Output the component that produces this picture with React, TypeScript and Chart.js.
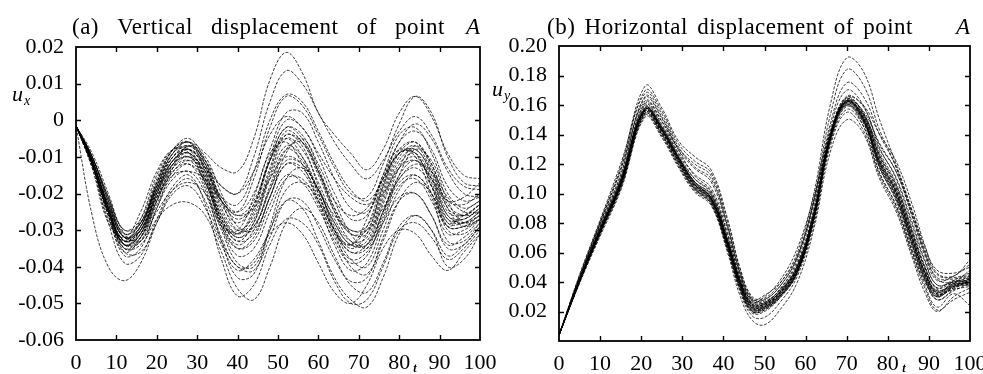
import React, { useEffect, useRef } from "react";
import { Chart, registerables } from "chart.js";

Chart.register(...registerables);

// ---------- Panel (a): vertical displacement u_x ----------
const T_A = [0, 4, 8, 12, 16, 20, 24, 28, 32, 36, 40, 44, 48, 52, 56, 60, 64, 68, 72, 76, 80, 84, 88, 92, 96, 100];

const UX_C1 = [-0.0015, -0.011, -0.024, -0.033, -0.030, -0.019, -0.010, -0.007, -0.013, -0.025, -0.031, -0.027, -0.015, -0.005, -0.008, -0.017, -0.027, -0.033, -0.032, -0.021, -0.011, -0.008, -0.015, -0.026, -0.027, -0.024];
const UX_C2 = [-0.0015, -0.012, -0.026, -0.035, -0.032, -0.021, -0.012, -0.009, -0.015, -0.028, -0.034, -0.030, -0.018, -0.008, -0.011, -0.020, -0.030, -0.036, -0.034, -0.023, -0.013, -0.010, -0.017, -0.028, -0.028, -0.025];
const UX_C3 = [-0.0015, -0.010, -0.022, -0.031, -0.028, -0.017, -0.008, -0.005, -0.011, -0.022, -0.027, -0.023, -0.011, -0.002, -0.005, -0.014, -0.024, -0.030, -0.029, -0.018, -0.008, -0.006, -0.013, -0.024, -0.026, -0.023];
const UX_C4 = [-0.0015, -0.009, -0.020, -0.031, -0.033, -0.024, -0.013, -0.007, -0.010, -0.020, -0.029, -0.030, -0.021, -0.009, -0.005, -0.012, -0.022, -0.031, -0.035, -0.027, -0.015, -0.008, -0.011, -0.022, -0.028, -0.026];
const UX_C5 = [-0.0015, -0.013, -0.028, -0.032, -0.025, -0.014, -0.008, -0.009, -0.018, -0.029, -0.030, -0.021, -0.009, -0.006, -0.012, -0.022, -0.031, -0.034, -0.027, -0.015, -0.008, -0.010, -0.020, -0.029, -0.025, -0.022];
const UX_C6 = [-0.0015, -0.011, -0.024, -0.034, -0.031, -0.020, -0.013, -0.011, -0.017, -0.028, -0.035, -0.033, -0.023, -0.015, -0.017, -0.024, -0.033, -0.039, -0.037, -0.026, -0.017, -0.015, -0.020, -0.029, -0.029, -0.026];
const UX_C7 = [-0.0015, -0.011, -0.023, -0.032, -0.029, -0.018, -0.010, -0.008, -0.013, -0.023, -0.028, -0.023, -0.010, 0.000, -0.002, -0.010, -0.020, -0.027, -0.026, -0.015, -0.004, -0.002, -0.009, -0.020, -0.024, -0.022];
const UX_C8 = [-0.0015, -0.012, -0.025, -0.033, -0.029, -0.017, -0.008, -0.006, -0.014, -0.027, -0.033, -0.028, -0.014, -0.004, -0.007, -0.018, -0.029, -0.035, -0.031, -0.018, -0.009, -0.009, -0.018, -0.029, -0.029, -0.027];
const UX_T1 = [-0.0015, -0.010, -0.021, -0.030, -0.027, -0.016, -0.008, -0.006, -0.009, -0.013, -0.014, -0.005, 0.011, 0.0185, 0.013, 0.002, -0.004, -0.009, -0.0135, -0.008, 0.002, 0.0065, 0.001, -0.009, -0.015, -0.016];
const UX_T2 = [-0.0015, -0.011, -0.023, -0.032, -0.028, -0.017, -0.009, -0.007, -0.011, -0.018, -0.020, -0.010, 0.005, 0.0135, 0.010, 0.002, -0.006, -0.012, -0.016, -0.011, -0.003, 0.001, -0.004, -0.013, -0.018, -0.019];
const UX_T3 = [-0.0015, -0.011, -0.024, -0.033, -0.029, -0.018, -0.009, -0.006, -0.012, -0.022, -0.025, -0.016, -0.002, 0.0065, 0.004, -0.004, -0.013, -0.020, -0.021, -0.012, -0.001, 0.0065, 0.002, -0.010, -0.017, -0.018];
const UX_T4 = [-0.0015, -0.010, -0.022, -0.031, -0.028, -0.018, -0.010, -0.008, -0.013, -0.021, -0.023, -0.014, 0.000, 0.007, 0.005, -0.003, -0.012, -0.019, -0.022, -0.016, -0.006, -0.001, -0.005, -0.014, -0.020, -0.021];
const UX_B1 = [-0.0015, -0.026, -0.040, -0.0438, -0.039, -0.028, -0.019, -0.016, -0.022, -0.033, -0.040, -0.041, -0.032, -0.022, -0.022, -0.029, -0.038, -0.044, -0.043, -0.032, -0.022, -0.020, -0.026, -0.035, -0.034, -0.029];
const UX_B2 = [-0.0015, -0.012, -0.025, -0.035, -0.034, -0.027, -0.023, -0.0225, -0.026, -0.036, -0.046, -0.049, -0.040, -0.028, -0.024, -0.028, -0.037, -0.045, -0.047, -0.039, -0.029, -0.026, -0.030, -0.037, -0.034, -0.029];
const UX_B3 = [-0.0015, -0.013, -0.028, -0.039, -0.037, -0.027, -0.018, -0.015, -0.023, -0.038, -0.048, -0.045, -0.034, -0.027, -0.028, -0.034, -0.044, -0.050, -0.049, -0.040, -0.030, -0.028, -0.032, -0.038, -0.035, -0.030];
const UX_B4 = [-0.0015, -0.012, -0.026, -0.037, -0.035, -0.024, -0.016, -0.014, -0.020, -0.032, -0.040, -0.039, -0.030, -0.022, -0.024, -0.033, -0.043, -0.049, -0.051, -0.043, -0.031, -0.026, -0.030, -0.040, -0.038, -0.031];
const UX_B5 = [-0.0015, -0.012, -0.025, -0.036, -0.036, -0.028, -0.020, -0.018, -0.024, -0.034, -0.041, -0.038, -0.031, -0.028, -0.031, -0.039, -0.047, -0.050, -0.045, -0.035, -0.030, -0.031, -0.037, -0.041, -0.036, -0.031];
const UX_M1 = [-0.0015, -0.011, -0.024, -0.034, -0.033, -0.025, -0.019, -0.017, -0.020, -0.030, -0.039, -0.040, -0.030, -0.019, -0.017, -0.022, -0.031, -0.040, -0.042, -0.033, -0.022, -0.017, -0.020, -0.030, -0.031, -0.027];
const UX_M2 = [-0.0015, -0.012, -0.026, -0.036, -0.032, -0.021, -0.014, -0.012, -0.019, -0.033, -0.043, -0.042, -0.029, -0.016, -0.013, -0.019, -0.030, -0.038, -0.040, -0.030, -0.019, -0.015, -0.021, -0.033, -0.033, -0.028];
const UX_M3 = [-0.0015, -0.011, -0.023, -0.032, -0.030, -0.021, -0.015, -0.014, -0.016, -0.022, -0.026, -0.022, -0.011, -0.004, -0.006, -0.014, -0.022, -0.026, -0.024, -0.016, -0.009, -0.008, -0.014, -0.022, -0.023, -0.020];
const UX_M4 = [-0.0015, -0.010, -0.021, -0.030, -0.028, -0.019, -0.012, -0.010, -0.013, -0.018, -0.020, -0.014, -0.004, 0.001, -0.002, -0.009, -0.016, -0.021, -0.023, -0.020, -0.013, -0.011, -0.016, -0.022, -0.021, -0.017];
const UX_M5 = [-0.0015, -0.012, -0.025, -0.034, -0.030, -0.019, -0.011, -0.009, -0.016, -0.027, -0.032, -0.029, -0.019, -0.011, -0.012, -0.019, -0.028, -0.034, -0.034, -0.025, -0.016, -0.013, -0.018, -0.027, -0.027, -0.024];
const UX_M6 = [-0.0015, -0.011, -0.024, -0.033, -0.031, -0.022, -0.014, -0.011, -0.014, -0.022, -0.026, -0.024, -0.016, -0.010, -0.012, -0.019, -0.026, -0.030, -0.030, -0.024, -0.016, -0.012, -0.014, -0.021, -0.025, -0.025];
const UX_M7 = [-0.0015, -0.012, -0.025, -0.034, -0.031, -0.020, -0.012, -0.010, -0.017, -0.029, -0.035, -0.032, -0.021, -0.012, -0.014, -0.022, -0.032, -0.038, -0.036, -0.028, -0.021, -0.020, -0.026, -0.034, -0.032, -0.028];
const UX_D1 = [-0.0015, -0.011, -0.023, -0.032, -0.029, -0.018, -0.009, -0.006, -0.012, -0.024, -0.030, -0.026, -0.013, -0.003, -0.006, -0.015, -0.025, -0.031, -0.031, -0.020, -0.010, -0.007, -0.014, -0.025, -0.026, -0.023];
const UX_D2 = [-0.0015, -0.012, -0.025, -0.034, -0.031, -0.020, -0.011, -0.008, -0.014, -0.026, -0.032, -0.028, -0.016, -0.007, -0.010, -0.019, -0.028, -0.034, -0.033, -0.022, -0.012, -0.009, -0.016, -0.027, -0.028, -0.025];
const UX_D3 = [-0.0015, -0.010, -0.021, -0.032, -0.032, -0.022, -0.012, -0.007, -0.011, -0.022, -0.030, -0.029, -0.019, -0.008, -0.006, -0.014, -0.025, -0.033, -0.034, -0.025, -0.013, -0.007, -0.012, -0.024, -0.029, -0.027];
const UX_D4 = [-0.0015, -0.012, -0.027, -0.033, -0.027, -0.015, -0.008, -0.008, -0.016, -0.028, -0.031, -0.024, -0.011, -0.005, -0.010, -0.020, -0.030, -0.034, -0.029, -0.017, -0.009, -0.009, -0.018, -0.028, -0.026, -0.023];
const UX_D5 = [-0.0015, -0.011, -0.024, -0.033, -0.030, -0.019, -0.011, -0.009, -0.015, -0.026, -0.031, -0.025, -0.011, -0.002, -0.004, -0.013, -0.024, -0.031, -0.030, -0.019, -0.009, -0.006, -0.012, -0.023, -0.026, -0.025];
const UX_D6 = [-0.0015, -0.011, -0.024, -0.034, -0.032, -0.022, -0.013, -0.010, -0.016, -0.027, -0.033, -0.031, -0.021, -0.012, -0.013, -0.021, -0.030, -0.036, -0.035, -0.025, -0.015, -0.011, -0.016, -0.026, -0.028, -0.026];
const UX_D7 = [-0.0015, -0.012, -0.025, -0.035, -0.033, -0.023, -0.015, -0.012, -0.017, -0.029, -0.037, -0.035, -0.025, -0.016, -0.016, -0.023, -0.034, -0.041, -0.039, -0.028, -0.018, -0.016, -0.022, -0.031, -0.030, -0.027];
const UX_D8 = [-0.0015, -0.010, -0.022, -0.032, -0.030, -0.020, -0.011, -0.008, -0.012, -0.021, -0.025, -0.020, -0.008, 0.002, 0.002, -0.006, -0.016, -0.024, -0.025, -0.016, -0.006, -0.003, -0.008, -0.018, -0.022, -0.021];

const UX_SERIES = [UX_C1, UX_C2, UX_C3, UX_C4, UX_C5, UX_C6, UX_C7, UX_C8, UX_T1, UX_T2, UX_T3, UX_T4, UX_B1, UX_B2, UX_B3, UX_B4, UX_B5, UX_M1, UX_M2, UX_M3, UX_M4, UX_M5, UX_M6, UX_M7, UX_D1, UX_D2, UX_D3, UX_D4, UX_D5, UX_D6, UX_D7, UX_D8];

// ---------- Panel (b): horizontal displacement u_y ----------
const T_B = [0, 5, 10, 15, 21, 25, 29, 33, 37, 41, 44, 47, 50, 54, 58, 62, 66, 70, 74, 78, 82, 86, 89, 92, 96, 100];

const UY_C1 = [0.004, 0.041, 0.075, 0.107, 0.157, 0.143, 0.123, 0.105, 0.096, 0.066, 0.039, 0.023, 0.024, 0.033, 0.049, 0.085, 0.138, 0.162, 0.151, 0.121, 0.100, 0.068, 0.046, 0.033, 0.038, 0.040];
const UY_C2 = [0.004, 0.040, 0.073, 0.105, 0.155, 0.141, 0.121, 0.104, 0.094, 0.063, 0.036, 0.020, 0.022, 0.031, 0.047, 0.082, 0.135, 0.159, 0.148, 0.117, 0.096, 0.064, 0.042, 0.030, 0.037, 0.041];
const UY_C3 = [0.004, 0.042, 0.076, 0.109, 0.160, 0.146, 0.126, 0.107, 0.098, 0.068, 0.041, 0.025, 0.026, 0.035, 0.051, 0.087, 0.140, 0.164, 0.154, 0.125, 0.104, 0.072, 0.050, 0.036, 0.039, 0.038];
const UY_C4 = [0.004, 0.041, 0.074, 0.106, 0.156, 0.142, 0.122, 0.103, 0.095, 0.064, 0.038, 0.021, 0.023, 0.032, 0.048, 0.084, 0.137, 0.161, 0.150, 0.119, 0.098, 0.066, 0.044, 0.031, 0.036, 0.043];
const UY_C5 = [0.004, 0.043, 0.079, 0.113, 0.166, 0.152, 0.130, 0.112, 0.102, 0.072, 0.044, 0.027, 0.027, 0.035, 0.052, 0.089, 0.144, 0.170, 0.160, 0.131, 0.110, 0.078, 0.054, 0.038, 0.040, 0.041];
const UY_C6 = [0.004, 0.042, 0.077, 0.110, 0.162, 0.149, 0.131, 0.120, 0.112, 0.078, 0.046, 0.026, 0.026, 0.036, 0.055, 0.092, 0.141, 0.166, 0.159, 0.133, 0.115, 0.084, 0.060, 0.043, 0.042, 0.044];
const UY_C7 = [0.004, 0.043, 0.080, 0.116, 0.170, 0.156, 0.134, 0.122, 0.114, 0.081, 0.049, 0.029, 0.028, 0.038, 0.057, 0.095, 0.147, 0.175, 0.166, 0.140, 0.118, 0.087, 0.062, 0.045, 0.043, 0.046];
const UY_T1 = [0.004, 0.044, 0.081, 0.118, 0.173, 0.158, 0.136, 0.125, 0.116, 0.083, 0.050, 0.030, 0.029, 0.040, 0.060, 0.100, 0.160, 0.192, 0.183, 0.150, 0.120, 0.088, 0.064, 0.048, 0.046, 0.050];
const UY_T2 = [0.004, 0.042, 0.078, 0.112, 0.165, 0.151, 0.130, 0.117, 0.108, 0.076, 0.046, 0.028, 0.028, 0.038, 0.057, 0.096, 0.153, 0.184, 0.174, 0.143, 0.118, 0.084, 0.058, 0.041, 0.044, 0.052];
const UY_L1 = [0.004, 0.041, 0.075, 0.107, 0.158, 0.145, 0.125, 0.108, 0.099, 0.069, 0.041, 0.024, 0.025, 0.034, 0.050, 0.086, 0.139, 0.165, 0.160, 0.140, 0.122, 0.092, 0.065, 0.046, 0.044, 0.055];
const UY_L2 = [0.004, 0.040, 0.074, 0.106, 0.156, 0.143, 0.124, 0.106, 0.097, 0.066, 0.039, 0.022, 0.023, 0.033, 0.049, 0.085, 0.138, 0.163, 0.156, 0.134, 0.115, 0.086, 0.060, 0.042, 0.040, 0.048];
const UY_B1 = [0.004, 0.039, 0.071, 0.102, 0.152, 0.138, 0.118, 0.101, 0.092, 0.060, 0.031, 0.014, 0.011, 0.022, 0.040, 0.076, 0.128, 0.150, 0.141, 0.110, 0.088, 0.056, 0.033, 0.020, 0.030, 0.036];
const UY_B2 = [0.004, 0.040, 0.072, 0.103, 0.153, 0.139, 0.119, 0.102, 0.093, 0.062, 0.034, 0.017, 0.016, 0.027, 0.044, 0.079, 0.132, 0.155, 0.143, 0.112, 0.090, 0.058, 0.036, 0.021, 0.028, 0.033];
const UY_B3 = [0.004, 0.040, 0.073, 0.104, 0.154, 0.140, 0.120, 0.103, 0.093, 0.062, 0.035, 0.019, 0.020, 0.030, 0.046, 0.081, 0.134, 0.157, 0.146, 0.114, 0.092, 0.060, 0.038, 0.023, 0.032, 0.024];
const UY_E1 = [0.004, 0.042, 0.077, 0.110, 0.158, 0.145, 0.125, 0.108, 0.097, 0.067, 0.040, 0.026, 0.030, 0.042, 0.063, 0.098, 0.142, 0.160, 0.146, 0.114, 0.092, 0.060, 0.040, 0.030, 0.041, 0.045];
const UY_E2 = [0.004, 0.041, 0.076, 0.108, 0.158, 0.144, 0.124, 0.107, 0.097, 0.067, 0.041, 0.028, 0.031, 0.040, 0.058, 0.094, 0.141, 0.162, 0.150, 0.118, 0.095, 0.062, 0.041, 0.028, 0.035, 0.042];
const UY_U1 = [0.004, 0.045, 0.082, 0.120, 0.168, 0.154, 0.132, 0.118, 0.110, 0.078, 0.047, 0.028, 0.026, 0.036, 0.053, 0.088, 0.140, 0.165, 0.155, 0.126, 0.105, 0.073, 0.050, 0.036, 0.041, 0.039];
const UY_U2 = [0.004, 0.044, 0.080, 0.116, 0.163, 0.149, 0.128, 0.113, 0.104, 0.073, 0.043, 0.025, 0.025, 0.034, 0.051, 0.087, 0.139, 0.163, 0.152, 0.123, 0.102, 0.070, 0.047, 0.034, 0.039, 0.042];
const UY_M1 = [0.004, 0.041, 0.075, 0.107, 0.157, 0.144, 0.125, 0.110, 0.101, 0.070, 0.042, 0.024, 0.023, 0.032, 0.048, 0.083, 0.136, 0.160, 0.149, 0.122, 0.103, 0.071, 0.047, 0.032, 0.035, 0.037];
const UY_M2 = [0.004, 0.040, 0.074, 0.106, 0.157, 0.143, 0.122, 0.104, 0.096, 0.065, 0.037, 0.020, 0.021, 0.030, 0.046, 0.083, 0.137, 0.163, 0.153, 0.124, 0.101, 0.068, 0.044, 0.030, 0.037, 0.040];
const UY_D1 = [0.004, 0.041, 0.074, 0.106, 0.156, 0.142, 0.123, 0.105, 0.095, 0.065, 0.038, 0.022, 0.023, 0.032, 0.048, 0.084, 0.137, 0.161, 0.150, 0.120, 0.099, 0.067, 0.045, 0.032, 0.037, 0.040];
const UY_D2 = [0.004, 0.041, 0.075, 0.107, 0.158, 0.144, 0.124, 0.106, 0.097, 0.067, 0.040, 0.024, 0.025, 0.034, 0.050, 0.086, 0.139, 0.163, 0.152, 0.122, 0.101, 0.069, 0.047, 0.034, 0.038, 0.039];
const UY_D3 = [0.004, 0.040, 0.073, 0.105, 0.155, 0.141, 0.122, 0.105, 0.096, 0.066, 0.039, 0.022, 0.022, 0.031, 0.047, 0.083, 0.136, 0.160, 0.149, 0.118, 0.097, 0.065, 0.043, 0.031, 0.038, 0.042];
const UY_D4 = [0.004, 0.041, 0.075, 0.108, 0.159, 0.145, 0.125, 0.108, 0.099, 0.068, 0.040, 0.023, 0.024, 0.033, 0.049, 0.085, 0.138, 0.162, 0.153, 0.126, 0.106, 0.075, 0.051, 0.035, 0.037, 0.038];
const UY_D5 = [0.004, 0.041, 0.074, 0.106, 0.157, 0.143, 0.123, 0.106, 0.096, 0.065, 0.037, 0.021, 0.022, 0.031, 0.047, 0.084, 0.138, 0.164, 0.155, 0.128, 0.107, 0.074, 0.049, 0.033, 0.039, 0.044];
const UY_D6 = [0.004, 0.042, 0.076, 0.109, 0.161, 0.147, 0.127, 0.110, 0.100, 0.069, 0.042, 0.025, 0.025, 0.034, 0.050, 0.086, 0.139, 0.163, 0.151, 0.121, 0.101, 0.069, 0.046, 0.032, 0.036, 0.040];
const UY_D7 = [0.004, 0.040, 0.073, 0.104, 0.154, 0.140, 0.120, 0.103, 0.094, 0.063, 0.036, 0.020, 0.021, 0.031, 0.047, 0.083, 0.137, 0.162, 0.151, 0.120, 0.098, 0.065, 0.042, 0.028, 0.034, 0.039];
const UY_D8 = [0.004, 0.041, 0.075, 0.107, 0.157, 0.143, 0.124, 0.107, 0.097, 0.067, 0.040, 0.023, 0.024, 0.033, 0.049, 0.085, 0.138, 0.162, 0.154, 0.130, 0.111, 0.080, 0.055, 0.038, 0.040, 0.043];

const UY_SERIES = [UY_C1, UY_C2, UY_C3, UY_C4, UY_C5, UY_C6, UY_C7, UY_T1, UY_T2, UY_L1, UY_L2, UY_B1, UY_B2, UY_B3, UY_E1, UY_E2, UY_U1, UY_U2, UY_M1, UY_M2, UY_D1, UY_D2, UY_D3, UY_D4, UY_D5, UY_D6, UY_D7, UY_D8];

// ---------- Tick labels & texts ----------
const X_TICK_LABELS = ["0", "10", "20", "30", "40", "50", "60", "70", "80", "90", "100"];
const UX_TICK_LABELS = ["-0.06", "-0.05", "-0.04", "-0.03", "-0.02", "-0.01", "0", "0.01", "0.02"];
const UY_TICK_LABELS = ["", "0.02", "0.04", "0.06", "0.08", "0.10", "0.12", "0.14", "0.16", "0.18", "0.20"];

const TITLE_A = "(a) Vertical displacement of point";
const TITLE_B = "(b) Horizontal displacement of point";
const TITLE_POINT = "A";

const FONT = '"Liberation Serif", "Times New Roman", serif';

type Panel = {
  key: string;
  width: number;
  height: number;
  plot: { left: number; right: number; top: number; bottom: number };
  t: number[];
  series: number[][];
  yMin: number;
  yMax: number;
  yStep: number;
  yLabels: string[];
  title: string;
  titleX: number;
  wordSpacing: number;
  sub: string;
  uX: number;
  uY: number;
  tX: number;
};

const PANELS: Panel[] = [
  {
    key: "a",
    width: 500,
    height: 374,
    plot: { left: 76, right: 480, top: 47, bottom: 340 },
    t: T_A,
    series: UX_SERIES,
    yMin: -0.06,
    yMax: 0.02,
    yStep: 0.01,
    yLabels: UX_TICK_LABELS,
    title: TITLE_A,
    titleX: 72,
    wordSpacing: 12,
    sub: "x",
    uX: 12,
    uY: 101,
    tX: 415,
  },
  {
    key: "b",
    width: 493,
    height: 374,
    plot: { left: 69, right: 480, top: 46, bottom: 341 },
    t: T_B,
    series: UY_SERIES,
    yMin: 0,
    yMax: 0.2,
    yStep: 0.02,
    yLabels: UY_TICK_LABELS,
    title: TITLE_B,
    titleX: 57,
    wordSpacing: 3,
    sub: "y",
    uX: 2,
    uY: 96,
    tX: 414,
  },
];

function makeDecor(p: Panel) {
  return {
    id: "decor_" + p.key,
    afterDraw(chart: any) {
      const { ctx, chartArea: a, scales } = chart;
      const xs = scales.x;
      const ys = scales.y;
      ctx.save();
      ctx.strokeStyle = "#000";
      ctx.lineWidth = 1.8;
      ctx.strokeRect(a.left, a.top, a.right - a.left, a.bottom - a.top);
      ctx.lineWidth = 1.4;
      ctx.beginPath();
      xs.ticks.forEach((_: any, i: number) => {
        const px = Math.round(xs.getPixelForTick(i)) + 0.5;
        if (px <= a.left + 2 || px >= a.right - 2) return;
        ctx.moveTo(px, a.bottom);
        ctx.lineTo(px, a.bottom - 5);
        ctx.moveTo(px, a.top);
        ctx.lineTo(px, a.top + 5);
      });
      ys.ticks.forEach((_: any, i: number) => {
        const py = Math.round(ys.getPixelForTick(i)) + 0.5;
        if (py <= a.top + 2 || py >= a.bottom - 2) return;
        ctx.moveTo(a.left, py);
        ctx.lineTo(a.left + 5, py);
        ctx.moveTo(a.right, py);
        ctx.lineTo(a.right - 5, py);
      });
      ctx.stroke();

      // Title
      ctx.fillStyle = "#000";
      ctx.textBaseline = "alphabetic";
      ctx.font = "23px " + FONT;
      (ctx as any).letterSpacing = "0.5px";
      (ctx as any).wordSpacing = p.wordSpacing + "px";
      ctx.textAlign = "left";
      ctx.fillText(p.title, p.titleX, 34);
      (ctx as any).letterSpacing = "0px";
      (ctx as any).wordSpacing = "0px";
      ctx.font = "italic 23px " + FONT;
      ctx.textAlign = "right";
      ctx.fillText(TITLE_POINT, a.right, 34);

      // y-name u with subscript
      ctx.textAlign = "left";
      ctx.font = "italic 22px " + FONT;
      ctx.fillText("u", p.uX, p.uY);
      const w = ctx.measureText("u").width;
      ctx.font = "italic 14px " + FONT;
      ctx.fillText(p.sub, p.uX + w + 1, p.uY + 4);

      // x-name t
      ctx.font = "italic bold 12px " + FONT;
      ctx.textAlign = "center";
      ctx.fillText("t", p.tX, 372);
      ctx.restore();
    },
  };
}

function PanelChart({ p, left }: { p: Panel; left: number }) {
  const ref = useRef<HTMLCanvasElement | null>(null);
  useEffect(() => {
    if (!ref.current) return;
    const datasets = p.series.map((s, k) => ({
      label: "r" + k,
      data: p.t.map((x, i) => ({ x, y: s[i] })),
      borderColor: "rgba(0,0,0,0.85)",
      borderWidth: 0.9,
      borderDash: [3, 1.5],
      borderDashOffset: (k * 1.3) % 4.5,
      pointRadius: 0,
      tension: 0.4,
      fill: false,
    }));
    const chart = new Chart(ref.current, {
      type: "line",
      data: { datasets },
      plugins: [makeDecor(p)],
      options: {
        animation: false,
        responsive: false,
        devicePixelRatio: 1,
        events: [],
        layout: {
          padding: { left: 0, top: p.plot.top, right: p.width - p.plot.right, bottom: 0 },
        },
        plugins: {
          legend: { display: false },
          tooltip: { enabled: false },
          title: { display: false },
        },
        scales: {
          x: {
            type: "linear",
            min: 0,
            max: 100,
            grid: { display: false },
            border: { display: false },
            ticks: {
              stepSize: 10,
              autoSkip: false,
              maxRotation: 0,
              color: "#000",
              padding: 2,
              font: { family: FONT, size: 22 },
              callback: (_v: any, i: number) => X_TICK_LABELS[i],
            },
            afterFit: (s: any) => {
              s.height = p.height - p.plot.bottom;
              s.paddingLeft = 0;
              s.paddingRight = 0;
              s.paddingTop = 0;
              s.paddingBottom = 0;
            },
          },
          y: {
            type: "linear",
            min: p.yMin,
            max: p.yMax,
            grid: { display: false },
            border: { display: false },
            ticks: {
              stepSize: p.yStep,
              autoSkip: false,
              color: "#000",
              padding: 4,
              font: { family: FONT, size: 22 },
              callback: (_v: any, i: number) => p.yLabels[i],
            },
            afterFit: (s: any) => {
              s.width = p.plot.left;
              s.paddingLeft = 0;
              s.paddingRight = 0;
              s.paddingTop = 0;
              s.paddingBottom = 0;
            },
          },
        },
      } as any,
    });
    return () => chart.destroy();
  }, [p]);
  return (
    <canvas
      ref={ref}
      width={p.width}
      height={p.height}
      style={{ position: "absolute", left, top: 0, width: p.width, height: p.height }}
    />
  );
}

export default function App() {
  return (
    <div style={{ position: "absolute", left: 0, top: 0, width: 983, height: 374, background: "#fff", overflow: "hidden" }}>
      <PanelChart p={PANELS[0]} left={0} />
      <PanelChart p={PANELS[1]} left={490} />
    </div>
  );
}
